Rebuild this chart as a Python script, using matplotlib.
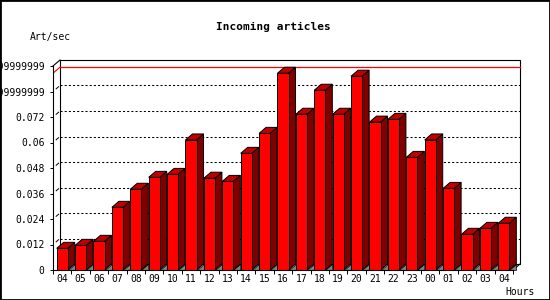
import matplotlib
matplotlib.use("Agg")
import matplotlib.pyplot as plt
from matplotlib.patches import Rectangle, Polygon
import numpy as np

# data
hours = ["04", "05", "06", "07", "08", "09", "10", "11", "12", "13", "14", "15", "16",
         "17", "18", "19", "20", "21", "22", "23", "00", "01", "02", "03", "04"]
art_per_sec = [0.0102, 0.0116, 0.0135, 0.0295, 0.0380, 0.0436, 0.0450, 0.0612, 0.0432,
               0.0417, 0.0549, 0.0643, 0.0926, 0.0733, 0.0846, 0.0733, 0.0912, 0.0696,
               0.0709, 0.0530, 0.0612, 0.0384, 0.0168, 0.0196, 0.0220]
ytick_vals = [0, 0.012, 0.024, 0.036, 0.048, 0.06, 0.072, 0.084, 0.096]
ytick_labels = ["0", "0.012", "0.024", "0.036", "0.048", "0.06", "0.072",
                "0.08399999999999999", "0.09599999999999999"]

mono = "DejaVu Sans Mono"
front_c, top_c, side_c, shadow_c = "#ff0000", "#c00000", "#800000", "#808080"

fig = plt.figure(figsize=(5.5, 3), dpi=100)
ax = fig.add_axes([53 / 550, 30 / 300, 460 / 550, 204 / 300])
n = len(hours)
ax.set_xlim(-0.5, n - 0.5)
ax.set_ylim(0, ytick_vals[-1])
ax.set_facecolor("none")

# depth of the fake 3d in data units (7 px right, 6 px up)
p0 = ax.transData.transform((0, 0))
dx, dy = ax.transData.inverted().transform(p0 + np.array([7, 6]))
x0, x1, ytop = -0.5, n - 0.5, ytick_vals[-1]

# back wall
ax.add_patch(Rectangle((x0 + dx, dy), x1 - x0, ytop, fc="white", ec="black",
                       lw=0.8, clip_on=False, zorder=1))
for v in ytick_vals[1:-1]:
    ax.plot([x0 + dx, x1 + dx], [v + dy, v + dy], color="black", lw=0.75,
            ls=(0, (2, 2)), clip_on=False, zorder=1.5)
    # small marks on the side wall
    ax.plot([x0 + dx * 0.45, x0 + dx * 0.8], [v + dy * 0.45, v + dy * 0.8],
            color="black", lw=0.7, clip_on=False, zorder=1.5)
ax.plot([x0, x0 + dx], [ytop, ytop + dy], color="black", lw=0.8, clip_on=False)

# max line
m = max(art_per_sec)
ax.plot([x0 + dx, x1 + dx], [m + dy, m + dy], color="red", lw=0.9, clip_on=False, zorder=2)
ax.plot([x0 + dx * 0.1, x0 + dx], [m + dy * 0.1, m + dy], color="red", lw=0.8,
        clip_on=False, zorder=2)

# floor right edge
ax.plot([x1, x1 + dx], [0, dy], color="black", lw=0.8, clip_on=False, zorder=2)

w = 0.3
for i, v in enumerate(art_per_sec):
    l, r = i - w, i + w
    ax.add_patch(Polygon([(r, 0), (r + dx, 0), (r + dx, dy)], closed=True,
                         fc=shadow_c, ec="black", lw=0.5, clip_on=False, zorder=3))
    ax.add_patch(Polygon([(r, 0), (r + dx, dy), (r + dx, v + dy), (r, v)], closed=True,
                         fc=side_c, ec="black", lw=0.7, clip_on=False, zorder=3))
    ax.add_patch(Polygon([(l, v), (r, v), (r + dx, v + dy), (l + dx, v + dy)], closed=True,
                         fc=top_c, ec="black", lw=0.7, clip_on=False, zorder=3))
    ax.add_patch(Rectangle((l, 0), 2 * w, v, fc=front_c, ec="black", lw=0.7,
                           clip_on=False, zorder=3))

# axes
for s in ["top", "right"]:
    ax.spines[s].set_visible(False)
for s in ["left", "bottom"]:
    ax.spines[s].set_linewidth(0.8)
    ax.spines[s].set_zorder(4)
ax.set_yticks(ytick_vals)
ax.set_yticklabels(ytick_labels, family=mono, fontsize=7)
ax.tick_params(axis="y", direction="out", length=2.5, width=0.7, pad=3.5)
ax.set_xticks(np.arange(n + 1) - 0.5)
ax.set_xticklabels([])
ax.set_xticks(np.arange(n), minor=True)
ax.set_xticklabels(hours, minor=True, family=mono, fontsize=7)
ax.tick_params(axis="x", which="major", direction="out", length=3, width=0.7)
ax.tick_params(axis="x", which="minor", length=0, pad=3)

fig.text(273 / 550, 1 - 27 / 300, "Incoming articles", family=mono, fontsize=8,
         fontweight="bold", ha="center", va="center")
fig.text(30 / 550, 1 - 37 / 300, "Art/sec", family=mono, fontsize=7, ha="left", va="center")
fig.text(505 / 550, 1 - 292 / 300, "Hours", family=mono, fontsize=7, ha="left", va="center")

fig.patches.append(Rectangle((0, 0), 1, 1, transform=fig.transFigure, fill=False,
                             ec="black", lw=2))

fig.savefig("out.png", dpi=100, facecolor="white")
